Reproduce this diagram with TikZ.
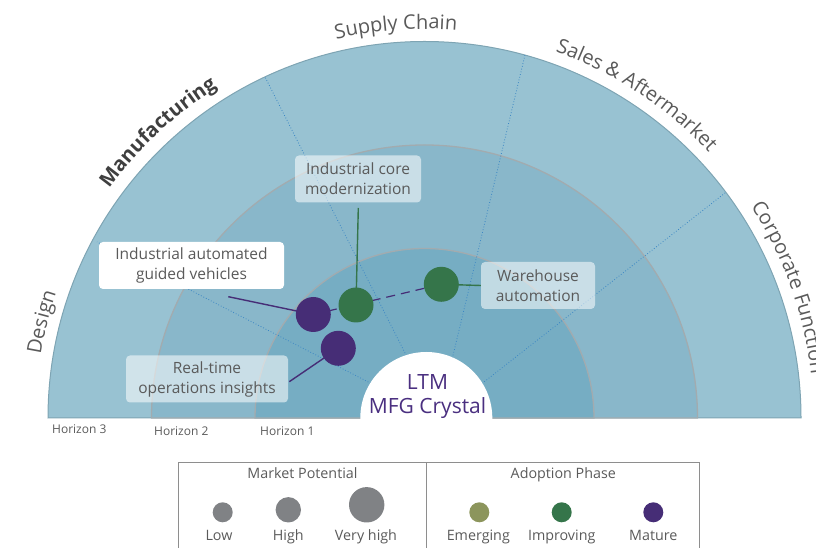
\documentclass[tikz,border=0pt]{standalone}
\usepackage{fontspec}
\setmainfont{Open Sans}
\usetikzlibrary{decorations.text,calc}
\definecolor{ringA}{HTML}{98C2D2}
\definecolor{ringB}{HTML}{89B7CA}
\definecolor{ringC}{HTML}{76ADC3}
\definecolor{ringline}{HTML}{A2ABAF}
\definecolor{outerline}{HTML}{7EA4B3}
\definecolor{divblue}{HTML}{3C87C4}
\definecolor{txtgray}{HTML}{5A5A5A}
\definecolor{boldgray}{HTML}{3F3F3F}
\definecolor{hubpurple}{HTML}{4A2F80}
\definecolor{bubpurple}{HTML}{462D76}
\definecolor{bubgreen}{HTML}{35754A}
\definecolor{bubolive}{HTML}{8C955C}
\definecolor{leggray}{HTML}{808285}
\definecolor{legline}{HTML}{8E8E8E}
\pgfdeclarelayer{back}
\pgfdeclarelayer{mid}
\pgfsetlayers{back,mid,main}
\begin{document}
\begin{tikzpicture}[x=1pt,y=1pt,
  labelbox/.style={rounded corners=4pt, align=center, text=txtgray,
    font=\fontsize{15.5}{20}\selectfont, inner sep=0pt, minimum height=47pt},
  solidbox/.style={labelbox, fill=white},
  glassbox/.style={labelbox, fill=white, fill opacity=0.55, text opacity=1},
  bubble/.style={circle, inner sep=0pt, minimum size=35pt},
  legdot/.style={circle, inner sep=0pt, fill=#1},
  divider/.style={divblue, dotted, line width=0.8pt},
  purpleline/.style={bubpurple, line width=1.4pt},
  greenline/.style={bubgreen, line width=1.4pt},
  legtext/.style={text=txtgray, font=\fontsize{14.3}{17}\selectfont, anchor=base, inner sep=0pt},
  horiz/.style={text=txtgray, font=\fontsize{12}{14}\selectfont, anchor=base west, inner sep=0pt},
  arclabel/.style={decorate, decoration={text along path, text align=center,
    text={|\fontsize{20}{24}\selectfont\color{txtgray}|#1}}}
]
\useasboundingbox (0,0) rectangle (816,548);
\coordinate (C) at (424.5,130);
\coordinate (P) at (438,130);
\coordinate (d1) at (97,306);
\coordinate (d2) at (265,471);
\coordinate (d3) at (525,493);
\coordinate (d4) at (725,355);

\begin{pgfonlayer}{back}
\draw[outerline, line width=1pt, fill=ringA] ($(C)+(-376.5,0)$) arc[start angle=180, end angle=0, radius=376.5] -- cycle;
\draw[ringline, line width=1.3pt, fill=ringB] ($(C)+(-273,0)$) arc[start angle=180, end angle=0, radius=273] -- cycle;
\draw[ringline, line width=1.3pt, fill=ringC] ($(C)+(-169.5,0)$) arc[start angle=180, end angle=0, radius=169.5] -- cycle;
\draw[divider] (P) -- (d1);
\draw[divider] (P) -- (d2);
\draw[divider] (P) -- (d3);
\draw[divider] (P) -- (d4);
\fill[white] (360.3,128) -- (360.3,130) arc[start angle=180, end angle=0, radius=66] -- (492.3,128) -- cycle;
\end{pgfonlayer}

% hub text
\node[text=hubpurple, font=\fontsize{21}{24}\selectfont, anchor=base, inner sep=0pt] (hubA) at (427.5,158) {LTM};
\node[text=hubpurple, font=\fontsize{21}{24}\selectfont, anchor=base, inner sep=0pt] (hubB) at (427.5,134.7) {MFG Crystal};

% curved category labels
\path[arclabel={Design}] (C) ++(185.9:389) arc[start angle=185.9, end angle=145.9, radius=389];
\path[decorate, decoration={text along path, text align=center,
    text={|\fontsize{20}{24}\selectfont\bfseries\color{boldgray}|Manufacturing}}]
  (C) ++(163:390) arc[start angle=163, end angle=103, radius=390];
\path[arclabel={Supply Chain}] (C) ++(124.2:389) arc[start angle=124.2, end angle=64.2, radius=389];
\path[arclabel={Sales {\&} Aftermarket}] (C) ++(86.7:389) arc[start angle=86.7, end angle=26.7, radius=389];
\path[decorate, decoration={text along path, text align=left,
    text={|\fontsize{20}{24}\selectfont\color{txtgray}|Corporate Function}}]
  (C) ++(33:389) arc[start angle=33, end angle=-25, radius=389];

% horizon labels
\node[horiz] (h3) at (52,114) {Horizon 3};
\node[horiz] (h2) at (154,112) {Horizon 2};
\node[horiz] (h1) at (260,112) {Horizon 1};

% label boxes
\node[solidbox, minimum width=185pt] (agvbox) at (191.5,282.5) {Industrial automated\\guided vehicles};
\node[glassbox, minimum width=126pt] (corebox) at (358,369) {Industrial core\\modernization};
\node[glassbox, minimum width=162pt] (rtbox) at (207,169) {Real-time\\operations insights};
\node[glassbox, minimum width=114pt] (whbox) at (538,262.5) {Warehouse\\automation};

% bubbles
\node[bubble, fill=bubpurple] (agv) at (313.3,233.5) {};
\node[bubble, fill=bubgreen] (core) at (356,243) {};
\node[bubble, fill=bubpurple] (rt) at (338.3,199.7) {};
\node[bubble, fill=bubgreen] (wh) at (441.3,263.7) {};

\coordinate (agvtail) at (228.3,251.3);
\coordinate (coretail) at (358.3,340);
\coordinate (rttail) at (289.3,166.3);

\begin{pgfonlayer}{mid}
\draw[bubpurple, line width=1.2pt, dash pattern=on 9pt off 6pt] (agv.center) -- (wh.center);
\draw[purpleline] (agvtail) -- (agv.center);
\draw[greenline] (coretail) -- (core.center);
\draw[purpleline] (rttail) -- (rt.center);
\draw[greenline] (wh.center) -- (whbox.west);
\end{pgfonlayer}

% legend
\draw[legline, line width=1pt] (178.3,85.7) rectangle (699.3,-20);
\draw[legline, line width=1pt] (426.7,85.7) -- (426.7,-20);
\node[legtext] (mptitle) at (302.5,69.7) {Market Potential};
\node[legtext] (aptitle) at (563.3,69.7) {Adoption Phase};
\node[legdot=leggray, minimum size=20pt] (low) at (222.7,35.7) {};
\node[legdot=leggray, minimum size=25.4pt] (high) at (288.3,38.2) {};
\node[legdot=leggray, minimum size=35.4pt] (vhigh) at (366.7,43.2) {};
\node[legdot=bubolive, minimum size=20pt] (emerg) at (479.3,35.7) {};
\node[legdot=bubgreen, minimum size=20pt] (improv) at (561.7,35.7) {};
\node[legdot=bubpurple, minimum size=20pt] (mature) at (653.3,35.7) {};
\node[legtext] (lowt) at (219,7.5) {Low};
\node[legtext] (hight) at (288.3,7.5) {High};
\node[legtext] (vhight) at (366,7.5) {Very high};
\node[legtext] (emergt) at (478.3,7.5) {Emerging};
\node[legtext] (improvt) at (561.7,7.5) {Improving};
\node[legtext] (maturet) at (653.3,7.5) {Mature};
\end{tikzpicture}
\end{document}
